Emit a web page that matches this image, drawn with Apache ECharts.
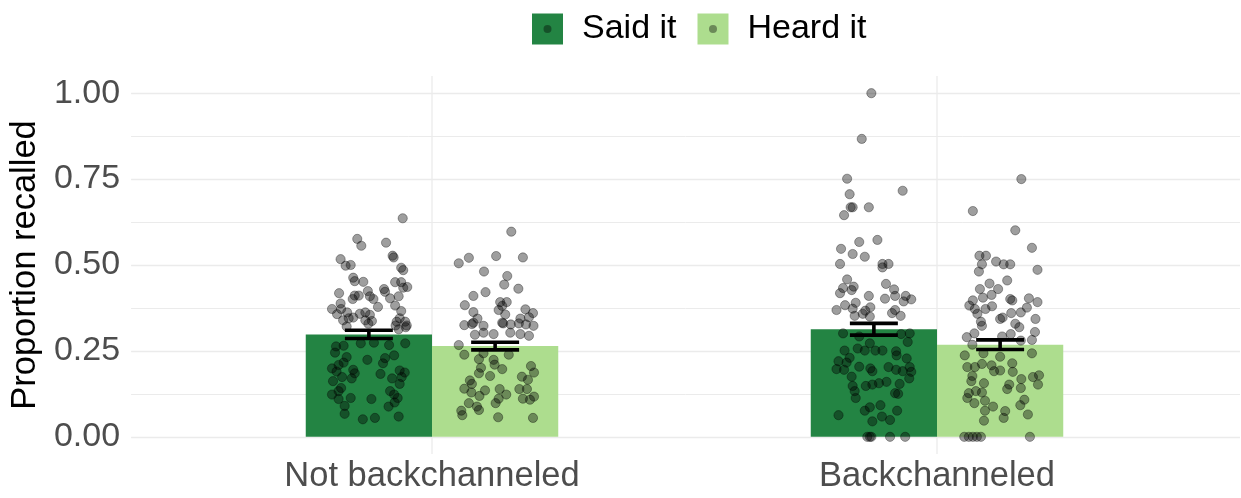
<!DOCTYPE html>
<html>
<head>
<meta charset="utf-8">
<script src="https://cdn.jsdelivr.net/npm/echarts@6/dist/echarts.min.js"></script>
<style>
  html, body { margin: 0; padding: 0; background: #ffffff; }
  #chart { width: 1241px; height: 498px; }
</style>
</head>
<body>
<div id="chart"></div>
<script>
// Categories and groups
const categories = ['Not backchanneled', 'Backchanneled'];
const groups = ['Said it', 'Heard it'];

// Mean proportion recalled per category
const meanSaid = [0.298, 0.313];
const meanHeard = [0.264, 0.268];
// Standard errors per category
const seSaid = [0.012, 0.017];
const seHeard = [0.011, 0.014];

// Y tick labels
const yTicks = [0, 0.25, 0.5, 0.75, 1];

// Individual participants: [horizontal jitter, proportion recalled]
const pointsNotSaid = [
  [0.067,0.636],[-0.023,0.576],[-0.015,0.556],[0.034,0.565],[0.047,0.527],[0.049,0.522],
  [-0.056,0.517],[-0.046,0.498],[-0.036,0.500],[0.064,0.492],[0.068,0.485],[-0.031,0.463],
  [-0.028,0.453],[-0.011,0.451],[0.052,0.450],[0.064,0.450],[0.076,0.436],[0.068,0.434],
  [-0.002,0.424],[0.030,0.430],[0.032,0.422],[-0.059,0.418],[-0.028,0.411],[-0.020,0.411],
  [0.059,0.409],[0.002,0.409],[0.009,0.401],[-0.032,0.401],[0.042,0.403],[-0.056,0.388],
  [0.018,0.378],[-0.073,0.372],[0.052,0.382],[-0.055,0.372],[0.064,0.366],[-0.043,0.362],
  [-0.063,0.357],[-0.018,0.358],[-0.007,0.362],[0.002,0.355],[0.061,0.345],[-0.040,0.345],
  [-0.031,0.347],[-0.007,0.339],[0.006,0.337],[0.055,0.335],[0.072,0.335],[-0.051,0.339],
  [-0.001,0.329],[0.075,0.324],[0.053,0.324],[0.073,0.319],[0.059,0.313],[-0.044,0.321],
  [-0.065,0.263],[-0.050,0.265],[-0.067,0.245],[-0.016,0.272],[0.010,0.274],[0.040,0.267],
  [0.072,0.272],[-0.044,0.232],[0.050,0.237],[-0.003,0.224],[0.032,0.229],[0.028,0.214],
  [-0.050,0.216],[-0.060,0.209],[-0.073,0.199],[-0.031,0.195],[-0.064,0.190],[-0.028,0.185],
  [0.061,0.193],[0.071,0.187],[0.023,0.183],[-0.053,0.174],[-0.034,0.170],[0.046,0.170],
  [0.065,0.174],[-0.071,0.162],[0.061,0.154],[-0.055,0.142],[-0.060,0.133],[0.042,0.133],
  [0.050,0.123],[-0.073,0.123],[0.057,0.113],[-0.036,0.113],[-0.060,0.110],[0.005,0.110],
  [0.051,0.100],[0.039,0.088],[-0.048,0.090],[-0.048,0.067],[-0.012,0.051],[0.012,0.055],
  [0.059,0.059]
];
const pointsNotHeard = [
  [0.032,0.597],[-0.052,0.521],[0.002,0.526],[0.055,0.522],[-0.072,0.505],[-0.022,0.481],
  [0.024,0.468],[0.018,0.443],[0.046,0.431],[-0.043,0.410],[-0.019,0.421],[-0.060,0.383],
  [0.010,0.392],[0.023,0.392],[0.014,0.381],[0.007,0.369],[-0.043,0.363],[0.060,0.371],
  [0.075,0.360],[0.020,0.356],[0.067,0.348],[-0.035,0.344],[0.050,0.344],[-0.061,0.325],
  [-0.046,0.328],[0.014,0.332],[0.031,0.327],[0.061,0.327],[0.076,0.323],[-0.023,0.323],
  [0.067,0.294],[-0.040,0.297],[-0.003,0.299],[0.050,0.299],[-0.072,0.267],[-0.023,0.303],
  [0.030,0.303],[-0.043,0.332],[0.016,0.330],[0.047,0.330],
  [-0.061,0.239],[-0.023,0.243],[0.027,0.239],[-0.032,0.226],[-0.003,0.224],[-0.028,0.201],
  [-0.001,0.210],[0.014,0.197],[0.071,0.206],[0.077,0.187],[-0.032,0.185],[-0.010,0.177],
  [0.053,0.175],[0.065,0.166],[-0.050,0.164],[-0.046,0.154],[-0.061,0.140],[-0.020,0.135],
  [-0.047,0.129],[0.009,0.139],[0.048,0.139],[0.063,0.139],[0.022,0.123],[-0.031,0.119],
  [0.077,0.117],[0.007,0.111],[0.055,0.111],[0.069,0.108],[-0.052,0.098],[0.001,0.098],
  [-0.036,0.088],[-0.032,0.078],[-0.067,0.076],[-0.065,0.063],[0.006,0.057],[0.075,0.055]
];
const pointsBackSaid = [
  [-0.005,1.000],[-0.024,0.867],[-0.053,0.751],[0.057,0.716],[-0.048,0.706],[-0.046,0.668],
  [-0.042,0.668],[-0.010,0.668],[-0.059,0.645],[-0.029,0.567],[0.007,0.573],[-0.065,0.547],
  [-0.042,0.532],[-0.018,0.524],[-0.067,0.503],[0.017,0.503],[0.029,0.503],[0.017,0.493],
  [-0.053,0.458],[0.024,0.445],[-0.061,0.433],[-0.040,0.437],[-0.044,0.427],[0.040,0.429],
  [-0.067,0.418],[-0.010,0.410],[0.022,0.402],[0.042,0.410],[0.063,0.410],[0.074,0.400],
  [0.059,0.394],[-0.057,0.383],[-0.036,0.390],[-0.042,0.373],[-0.007,0.377],[-0.074,0.369],
  [-0.017,0.367],[0.042,0.369],[-0.038,0.352],[-0.022,0.358],[0.036,0.360],[0.053,0.352],
  [-0.008,0.350],[-0.061,0.301],[0.071,0.301],[0.054,0.299],[-0.029,0.292],[-0.008,0.272],
  [0.067,0.276],[-0.032,0.257],[-0.018,0.251],[-0.058,0.251],[0.003,0.251],[0.017,0.251],
  [0.044,0.249],[0.045,0.237],[-0.048,0.230],[0.065,0.228],[-0.070,0.220],[-0.054,0.216],
  [-0.029,0.204],[-0.007,0.199],[-0.003,0.191],[0.029,0.203],[0.044,0.195],[0.057,0.191],
  [0.071,0.203],[0.074,0.189],[-0.074,0.197],[-0.059,0.195],[-0.044,0.175],[0.070,0.170],
  [0.051,0.154],[0.025,0.160],[0.010,0.156],[-0.003,0.152],[-0.016,0.148],[-0.042,0.148],
  [-0.038,0.133],[0.042,0.127],[0.048,0.125],[-0.036,0.113],[-0.008,0.086],[0.013,0.092],
  [-0.018,0.076],[0.046,0.076],[-0.070,0.063],[0.016,0.059],[0.032,0.049],[-0.003,0.045],
  [-0.013,0],[-0.008,0],[-0.005,0],[0.032,0],[0.062,0]
];
const pointsBackHeard = [
  [0.042,0.750],[-0.054,0.657],[0.030,0.601],[0.063,0.550],[-0.041,0.527],[-0.028,0.527],
  [-0.008,0.510],[-0.036,0.502],[0.007,0.502],[0.020,0.502],[0.074,0.486],[-0.042,0.481],
  [0.014,0.455],[-0.021,0.446],[-0.040,0.430],[-0.004,0.430],[-0.017,0.413],[-0.034,0.405],
  [-0.054,0.397],[0.020,0.401],[0.024,0.397],[0.057,0.403],[0.074,0.392],[-0.061,0.382],
  [-0.050,0.372],[-0.029,0.372],[-0.016,0.380],[0.053,0.376],[0.041,0.362],[-0.045,0.358],
  [0.022,0.360],[0.070,0.343],[0.000,0.343],[-0.038,0.335],[0.030,0.329],[0.005,0.347],
  [-0.036,0.323],[0.038,0.319],[0.069,0.305],[-0.066,0.290],[-0.051,0.301],[0.004,0.292],
  [0.021,0.299],[0.041,0.280],[0.063,0.282],[-0.055,0.268],
  [-0.070,0.237],[-0.033,0.243],[0.000,0.233],[0.063,0.243],[0.024,0.214],[-0.065,0.203],
  [-0.050,0.203],[-0.036,0.212],[-0.017,0.208],[-0.012,0.191],[0.000,0.193],[0.025,0.189],
  [0.065,0.174],[0.077,0.179],[-0.055,0.177],[-0.057,0.162],[0.042,0.168],[0.075,0.152],
  [-0.032,0.156],[0.018,0.152],[0.041,0.142],[0.014,0.139],[-0.062,0.127],[-0.048,0.133],
  [-0.036,0.129],[-0.065,0.113],[-0.051,0.098],[-0.030,0.105],[0.048,0.108],[0.040,0.092],
  [-0.014,0.088],[-0.030,0.076],[0.010,0.075],[0.055,0.065],[0.007,0.055],[-0.032,0.047],
  [-0.071,0],[-0.062,0],[-0.054,0],[-0.046,0],[-0.038,0],[0.059,0]
];

// Styling
const barColors = ['#238443', '#addd8e'];
const pointColor = 'rgba(0,0,0,0.38)';
const gridColor = '#ebebeb';
const fontFamily = '"Liberation Sans", Arial, Helvetica, sans-serif';
const dodge = [-0.125, 0.125];   // group offsets inside a category
const barWidthUnits = 0.25;
const capWidthUnits = 0.095;

const chart = echarts.init(document.getElementById('chart'), null, { renderer: 'canvas' });

// Category k sits at x = k + 1 on the value axis
function barData(means) {
  return means.map((m, i) => [i + 1, m]);
}
function errData(means, ses, g) {
  return means.map((m, i) => [i + 1 + dodge[g], m, ses[i]]);
}
function pointData(list, catIdx, g) {
  return list.map(p => [catIdx + 1 + dodge[g] + p[0], p[1]]);
}

function makeBarRenderer(g) {
  return function (params, api) {
    const xc = api.value(0) + dodge[g];
    const y = api.value(1);
    const p0 = api.coord([xc - barWidthUnits / 2, y]);
    const p1 = api.coord([xc + barWidthUnits / 2, 0]);
    return {
      type: 'rect',
      shape: { x: p0[0], y: p0[1], width: p1[0] - p0[0], height: p1[1] - p0[1] },
      style: { fill: barColors[g] }
    };
  };
}

function renderErr(params, api) {
  const x = api.value(0), m = api.value(1), se = api.value(2);
  const top = api.coord([x, m + se]);
  const bot = api.coord([x, m - se]);
  const l = api.coord([x - capWidthUnits / 2, m])[0];
  const r = api.coord([x + capWidthUnits / 2, m])[0];
  const st = { stroke: '#000000', lineWidth: 3.6, fill: null };
  return {
    type: 'group',
    children: [
      { type: 'line', shape: { x1: top[0], y1: top[1], x2: bot[0], y2: bot[1] }, style: st },
      { type: 'line', shape: { x1: l, y1: top[1], x2: r, y2: top[1] }, style: st },
      { type: 'line', shape: { x1: l, y1: bot[1], x2: r, y2: bot[1] }, style: st }
    ]
  };
}

function renderVGrid(params, api) {
  const x = api.value(0);
  const a = api.coord([x, -0.05]);
  const b = api.coord([x, 1.05]);
  return {
    type: 'line',
    shape: { x1: a[0], y1: a[1], x2: b[0], y2: b[1] },
    style: { stroke: gridColor, lineWidth: 1.3 }
  };
}

const scatterBase = {
  type: 'scatter',
  xAxisIndex: 0, yAxisIndex: 0,
  symbol: 'circle',
  symbolSize: 9.2,
  z: 4,
  itemStyle: { color: pointColor, borderColor: pointColor, borderWidth: 0.9, opacity: 1 },
  emphasis: { disabled: true },
  silent: true
};

const option = {
  animation: false,
  backgroundColor: '#ffffff',
  textStyle: { fontFamily: fontFamily },
  grid: [
    // plotting panel, y from -0.05 to 1.05
    { left: 129, right: 1, top: 76, bottom: 44, containLabel: false },
    // tick/grid panel, y from 0 to 1
    { left: 129, right: 1, top: 93.2, bottom: 61.2, containLabel: false }
  ],
  xAxis: [
    {
      gridIndex: 0, type: 'value', min: 0.4, max: 2.6,
      axisLine: { show: false }, axisTick: { show: false }, splitLine: { show: false },
      axisLabel: {
        customValues: [1, 2],
        margin: 5,
        fontSize: 34.5,
        color: '#4d4d4d',
        fontFamily: fontFamily,
        formatter: function (v) {
          const k = Math.round(v);
          return Math.abs(v - k) < 1e-6 && k >= 1 && k <= categories.length ? categories[k - 1] : '';
        }
      }
    },
    { gridIndex: 1, type: 'value', min: 0.4, max: 2.6, show: false }
  ],
  yAxis: [
    { gridIndex: 0, type: 'value', min: -0.05, max: 1.05, show: false, splitLine: { show: false } },
    {
      gridIndex: 1, type: 'value', min: yTicks[0], max: yTicks[yTicks.length - 1], interval: 0.25,
      axisLine: { show: false }, axisTick: { show: false },
      minorTick: { show: false, splitNumber: 2 },
      splitLine: { show: true, lineStyle: { color: gridColor, width: 1.3 } },
      minorSplitLine: { show: true, lineStyle: { color: gridColor, width: 1 } },
      axisLabel: {
        margin: 11,
        fontSize: 34,
        color: '#4d4d4d',
        fontFamily: fontFamily,
        showMinLabel: true, showMaxLabel: true,
        formatter: v => v.toFixed(2)
      },
      name: 'Proportion recalled',
      nameLocation: 'middle',
      nameGap: 86,
      nameTextStyle: { fontSize: 34.5, color: '#000000', fontFamily: fontFamily }
    }
  ],
  legend: [
    {
      data: groups.map(n => ({ name: n, icon: 'rect' })),
      left: 532, top: 12, padding: 0,
      itemWidth: 31, itemHeight: 31, itemGap: 21,
      itemStyle: { borderWidth: 0 },
      selectedMode: false,
      textStyle: { fontSize: 34, color: '#000000', fontFamily: fontFamily, padding: [0, 0, 0, 14] }
    },
    {
      // the point glyph drawn inside each legend key
      data: groups.map(n => ({ name: n, icon: 'circle', itemStyle: { color: pointColor, borderWidth: 0 } })),
      left: 543.5, top: 12, padding: 0,
      itemWidth: 8, itemHeight: 8, itemGap: 32.5,
      selectedMode: false,
      textStyle: { fontSize: 34, color: 'rgba(0,0,0,0)', fontFamily: fontFamily, padding: [0, 0, 0, 25.5] }
    }
  ],
  series: [
    {
      name: 'vgrid', type: 'custom', xAxisIndex: 0, yAxisIndex: 0, z: 1, silent: true,
      renderItem: renderVGrid, data: categories.map((c, i) => [i + 1])
    },
    {
      name: groups[0], type: 'custom', xAxisIndex: 0, yAxisIndex: 0, z: 2, silent: true,
      itemStyle: { color: barColors[0] },
      renderItem: makeBarRenderer(0), data: barData(meanSaid)
    },
    {
      name: groups[1], type: 'custom', xAxisIndex: 0, yAxisIndex: 0, z: 2, silent: true,
      itemStyle: { color: barColors[1] },
      renderItem: makeBarRenderer(1), data: barData(meanHeard)
    },
    Object.assign({}, scatterBase, { data: pointData(pointsNotSaid, 0, 0) }),
    Object.assign({}, scatterBase, { data: pointData(pointsNotHeard, 0, 1) }),
    Object.assign({}, scatterBase, { data: pointData(pointsBackSaid, 1, 0) }),
    Object.assign({}, scatterBase, { data: pointData(pointsBackHeard, 1, 1) }),
    {
      name: 'errSaid', type: 'custom', xAxisIndex: 0, yAxisIndex: 0, z: 6, silent: true,
      renderItem: renderErr, data: errData(meanSaid, seSaid, 0)
    },
    {
      name: 'errHeard', type: 'custom', xAxisIndex: 0, yAxisIndex: 0, z: 6, silent: true,
      renderItem: renderErr, data: errData(meanHeard, seHeard, 1)
    }
  ]
};

chart.setOption(option);
</script>
</body>
</html>
